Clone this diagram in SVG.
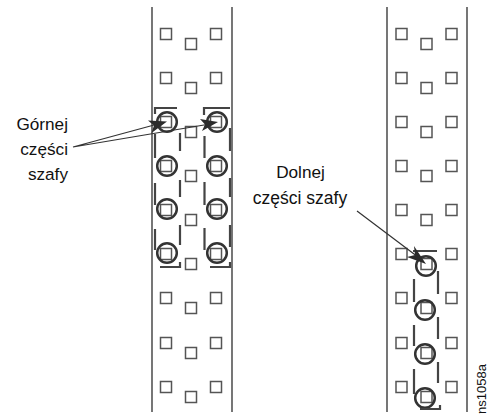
<svg xmlns="http://www.w3.org/2000/svg" width="493" height="416" viewBox="0 0 493 416">
<style>
.rail{stroke:#555;stroke-width:1.6;fill:none}
.hole{fill:#fff;stroke:#555;stroke-width:1.5}
.ring{fill:none;stroke:#333;stroke-width:2.5}
.dash{fill:none;stroke:#444;stroke-width:2.2}
.lead{stroke:#333;stroke-width:1.2;fill:none}
.head{fill:#2b2b2b;stroke:none}
text{font-family:"Liberation Sans",Arial,sans-serif;font-size:17.2px;fill:#111}
</style>
<defs>
<rect id="h" class="hole" x="-5.500" y="-5.500" width="11" height="11"/>
<g id="cols">
<use href="#h" x="-25" y="0"/><use href="#h" x="0" y="10"/><use href="#h" x="25" y="0"/>
</g>
<circle id="r" class="ring" r="9.800"/>
</defs>
<g id="rack-left">
<path class="rail" d="M152 7V412M232 7V412"/>
<use href="#cols" x="191" y="34"/><use href="#cols" x="191" y="78"/><use href="#cols" x="191" y="122"/><use href="#cols" x="191" y="166"/><use href="#cols" x="191" y="210"/><use href="#cols" x="191" y="254"/><use href="#cols" x="191" y="298"/><use href="#cols" x="191" y="343"/><use href="#cols" x="191" y="387"/>
</g>
<g id="rack-right">
<path class="rail" d="M387 7V412M467 7V412"/>
<use href="#cols" x="426.500" y="34"/><use href="#cols" x="426.500" y="78"/><use href="#cols" x="426.500" y="122"/><use href="#cols" x="426.500" y="166"/><use href="#cols" x="426.500" y="210"/><use href="#cols" x="426.500" y="254"/><use href="#cols" x="426.500" y="298"/><use href="#cols" x="426.500" y="343"/><use href="#cols" x="426.500" y="387"/>
</g>
<g id="mount-left-a">
<use href="#r" x="167" y="122"/><use href="#r" x="167" y="166"/><use href="#r" x="167" y="209"/><use href="#r" x="167" y="253"/>
<path class="dash" d="M155 114V108H177M155 134V158M155 183V205M155 229V250M180 133V151M180 180V197M180 225V245M180 262V267H160"/>
</g>
<g id="mount-left-b">
<use href="#r" x="217" y="122"/><use href="#r" x="217" y="166"/><use href="#r" x="217" y="209"/><use href="#r" x="217" y="253"/>
<path class="dash" d="M204 115V108H230M204.500 136V158M204.500 182V205M204.500 228V250M230 128V151M230 178V197M230 225V247M230 262V267H210"/>
</g>
<g id="mount-right">
<use href="#r" x="426" y="266"/><use href="#r" x="425" y="310"/><use href="#r" x="425" y="354"/><use href="#r" x="425" y="398"/>
<path class="dash" d="M413 251H437M414 279V302M414 325V346M414 369V394M438 271V294M438 317V339M438 362V383M440 405V409H420"/>
</g>
<g id="connectors">
<path class="lead" d="M73 147L156 124.500M73 147L207 124.500M357 211L418 257"/>
<path class="head" d="M167 121.500L151.500 133L154 125.500L148 120.500Z"/>
<path class="head" d="M218 122L202 131L205 124.500L200 119Z"/>
<path class="head" d="M426 264L407 257L415 255L414 246Z"/>
</g>
<g id="labels">
<text x="68" y="130" text-anchor="end">Górnej</text>
<text x="68" y="155" text-anchor="end">części</text>
<text x="68" y="180" text-anchor="end">szafy</text>
<text x="300.500" y="178" text-anchor="middle">Dolnej</text>
<text x="300" y="204" text-anchor="middle" style="font-size:17.5px">części szafy</text>
<text transform="translate(486 414) rotate(-90)" style="font-size:13px">ns1058a</text>
</g>
</svg>
